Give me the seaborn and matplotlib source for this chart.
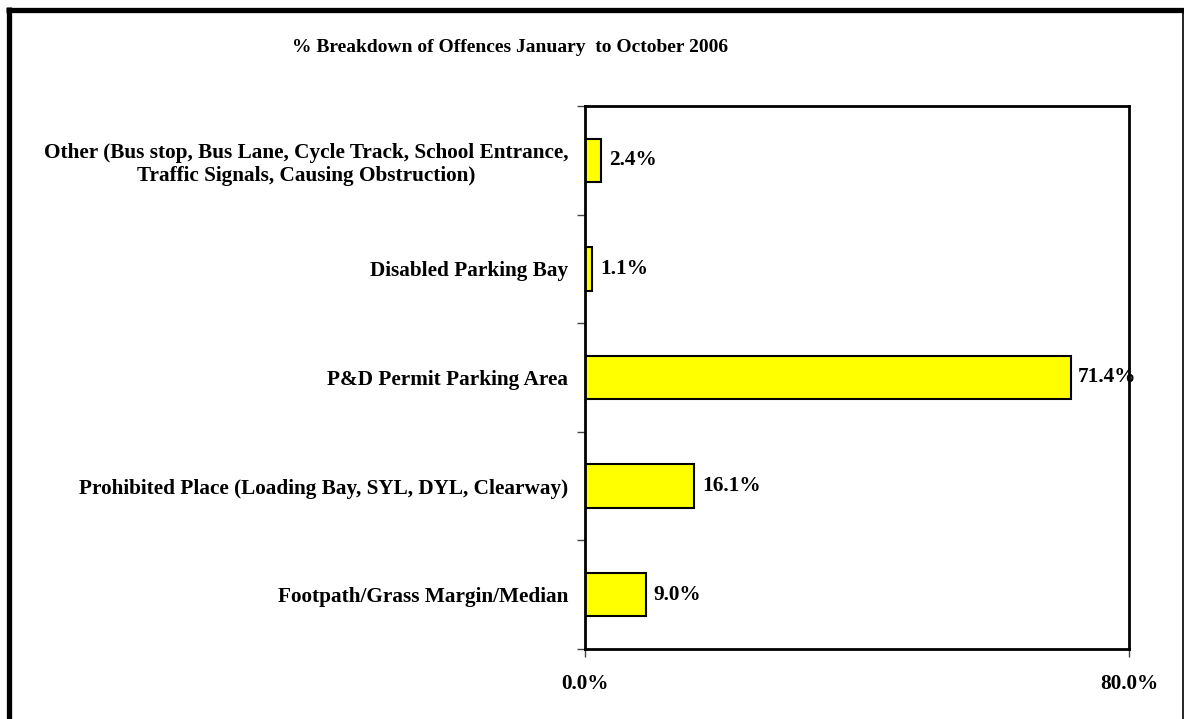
import matplotlib
matplotlib.use("Agg")
import matplotlib.pyplot as plt
import seaborn as sns
import pandas as pd
from matplotlib.lines import Line2D
from matplotlib.ticker import FixedLocator

categories = [
    "Other (Bus stop, Bus Lane, Cycle Track, School Entrance,\nTraffic Signals, Causing Obstruction)",
    "Disabled Parking Bay",
    "P&D Permit Parking Area",
    "Prohibited Place (Loading Bay, SYL, DYL, Clearway)",
    "Footpath/Grass Margin/Median",
]
values = [2.4, 1.1, 71.4, 16.1, 9.0]
x_ticks = [0, 80]
x_tick_labels = ["0.0%", "80.0%"]
title = "% Breakdown of Offences January  to October 2006"

df = pd.DataFrame({"category": categories, "value": values})

sns.set_theme(style="white")
plt.rcParams["font.family"] = ["Liberation Serif", "DejaVu Serif"]
plt.rcParams["font.weight"] = "bold"
plt.rcParams["text.color"] = "black"
plt.rcParams["xtick.color"] = "black"
plt.rcParams["ytick.color"] = "black"

FS = 15.3

W, H = 1184, 719
fig = plt.figure(figsize=(W / 100, H / 100), dpi=100)
fig.patch.set_facecolor("white")
ax = fig.add_axes([585 / W, 1 - 649 / H, (1129 - 585) / W, (649 - 106) / H])

sns.barplot(data=df, x="value", y="category", order=categories, orient="h",
            color="#FFFF00", edgecolor="black", linewidth=1.5, width=0.4,
            saturation=1, ax=ax)

ax.set_xlim(0, 80)
ax.set_ylim(len(categories) - 0.5, -0.5)
ax.set_xlabel("")
ax.set_ylabel("")
for s in ax.spines.values():
    s.set_visible(True)
    s.set_color("black")
    s.set_linewidth(2)

ax.set_xticks(x_ticks)
ax.set_xticklabels(x_tick_labels, fontsize=FS, fontweight="bold", color="black")
ax.tick_params(axis="x", which="major", direction="out", length=6, width=1,
               color="#444444", pad=12, bottom=True)

ax.set_yticks(range(len(categories)))
ax.set_yticklabels(categories, fontsize=FS, fontweight="bold", color="black",
                   multialignment="center")
ax.tick_params(axis="y", which="major", length=0, pad=12, left=True)
ax.yaxis.set_minor_locator(FixedLocator([i - 0.5 for i in range(len(categories) + 1)]))
ax.tick_params(axis="y", which="minor", direction="out", length=6, width=1,
               color="#444444", left=True)

for i, v in enumerate(values):
    ax.annotate(f"{v:.1f}%", xy=(v, i), xytext=(5.5, 0), textcoords="offset points",
                va="center", ha="left", fontsize=FS, fontweight="bold",
                color="black")

fig.text(510 / W, 1 - 47 / H, title, ha="center", va="center",
         fontsize=14, fontweight="bold", color="black")

# outer frame (thick left/top, thin right)
fig.add_artist(Line2D([8.5 / W, 8.5 / W], [0, 1 - 7 / H], transform=fig.transFigure,
                      color="black", linewidth=3.8, solid_capstyle="butt"))
fig.add_artist(Line2D([6 / W, 1183.5 / W], [1 - 9.5 / H, 1 - 9.5 / H],
                      transform=fig.transFigure, color="black", linewidth=3.8,
                      solid_capstyle="butt"))
fig.add_artist(Line2D([1182.5 / W, 1182.5 / W], [0, 1 - 9.5 / H],
                      transform=fig.transFigure, color="black", linewidth=1.2,
                      solid_capstyle="butt"))

fig.savefig("out.png", dpi=100, facecolor="white")
